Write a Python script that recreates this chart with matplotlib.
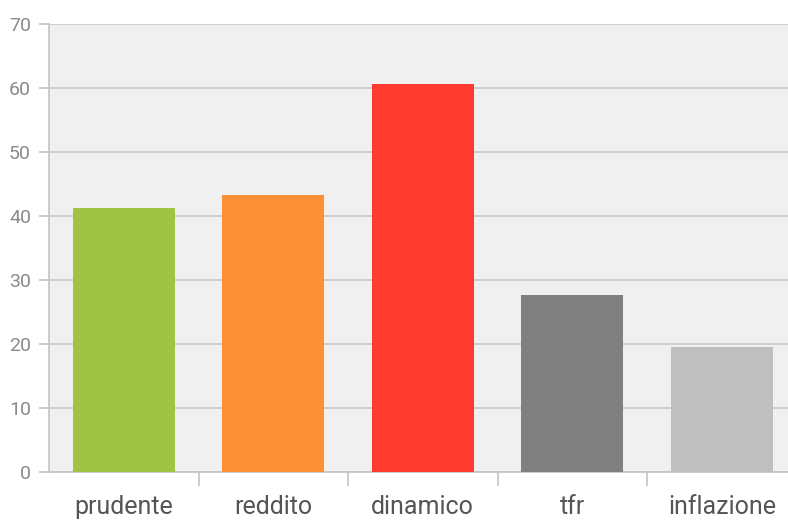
import matplotlib
matplotlib.use("Agg")
import matplotlib.pyplot as plt
import numpy as np

# ---------------------------------------------------------------------------
# Data
# ---------------------------------------------------------------------------
categories = ["prudente", "reddito", "dinamico", "tfr", "inflazione"]
values = [41.2, 43.3, 60.6, 27.7, 19.5]
colors = ["#a1c344", "#fd8f37", "#ff3a2f", "#808080", "#bfbfbf"]
y_ticks = [0, 10, 20, 30, 40, 50, 60, 70]

# ---------------------------------------------------------------------------
# Figure
# ---------------------------------------------------------------------------
plt.rcParams["font.family"] = ["Roboto", "DejaVu Sans"]

fig = plt.figure(figsize=(7.88, 5.2), dpi=100, facecolor="white")
# plot area runs slightly past the right edge of the image
ax = fig.add_axes([49 / 788, 48 / 520, 747.5 / 788, 448 / 520])
ax.set_facecolor("#f0f0f0")

x = np.arange(len(categories))
ax.bar(x, values, width=0.68, color=colors, zorder=3)

ax.set_xlim(-0.5, len(categories) - 0.5)
ax.set_ylim(0, 70)

# gridlines
ax.set_yticks(y_ticks)
ax.yaxis.grid(True, color="#c8c8c8", linewidth=1.2, zorder=0)
ax.set_axisbelow(True)

# spines
for s in ["top", "right"]:
    ax.spines[s].set_visible(False)
ax.spines["left"].set_color("#c4c4c4")
ax.spines["bottom"].set_color("#c4c4c4")
ax.spines["left"].set_linewidth(1.2)
ax.spines["bottom"].set_linewidth(1.2)

# y ticks
ax.tick_params(axis="y", length=7, width=1.2, color="#c4c4c4",
               labelsize=14, labelcolor="#8a8a8a", pad=6)

# x ticks: marks at category boundaries, labels at centres
ax.set_xticks(np.arange(0.5, len(categories) - 0.5, 1.0))
ax.set_xticklabels([])
ax.tick_params(axis="x", length=10, width=1.2, color="#c4c4c4")

for xi, name in zip(x, categories):
    ax.text(xi, -42 / 448, name, transform=ax.get_xaxis_transform(),
            ha="center", va="baseline", fontsize=18, color="#555555",
            clip_on=False)

fig.savefig("out.png", dpi=100, facecolor="white")
